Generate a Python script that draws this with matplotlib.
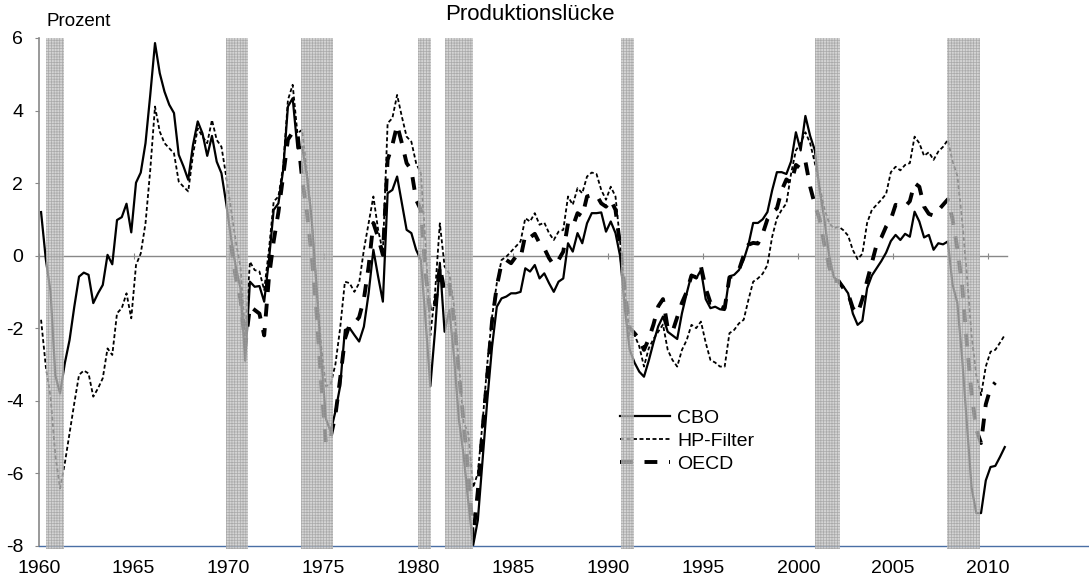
import numpy as np
import matplotlib
matplotlib.use("Agg")
import matplotlib.pyplot as plt

plt.rcParams['font.family'] = ['Liberation Sans', 'DejaVu Sans']
plt.rcParams['hatch.linewidth'] = 0.5

# Quartalswerte 1960Q1 - 2010Q4
cbo = [1.2, -0.1, -1.0, -3.3,
       -3.8, -2.97, -2.33, -1.41,
       -0.58, -0.47, -0.53, -1.31,
       -1.04, -0.81, 0.02, -0.24,
       0.98, 1.06, 1.43, 0.64,
       2.01, 2.29, 3.1, 4.43,
       5.86, 5.03, 4.52, 4.16,
       3.93, 2.78, 2.46, 2.09,
       3.05, 3.70, 3.37, 2.75,
       3.30, 2.59, 2.27, 1.44,
       0.5, -0.3, -0.9, -2.9,
       -0.72, -0.86, -0.84, -1.27,
       -0.12, 1.26, 1.44, 2.36,
       4.11, 4.34, 2.96, 3.0,
       2.2, 1.0, -0.8, -2.8,
       -4.5, -4.85, -4.3, -3.6,
       -2.05, -2.0, -2.19, -2.37,
       -1.96, -1.04, 0.16, -0.58,
       -1.27, 1.72, 1.81, 2.18,
       1.44, 0.71, 0.62, 0.16,
       -0.12, -1.8, -3.6, -2.05,
       -0.2, -2.1, -1.5, -2.8,
       -4.5, -5.5, -6.8, -8.0,
       -7.3, -5.64, -3.98, -2.51,
       -1.41, -1.18, -1.13, -1.04,
       -1.04, -1.0, -0.35, -0.44,
       -0.26, -0.63, -0.49, -0.76,
       -1.0, -0.72, -0.63, 0.34,
       0.11, 0.62, 0.34, 0.89,
       1.17, 1.17, 1.19, 0.66,
       0.94, 0.62, -0.03, -1.5,
       -2.6, -2.95, -3.2, -3.34,
       -2.9, -2.4, -1.95, -1.68,
       -2.1, -2.2, -2.3, -1.59,
       -1.04, -0.53, -0.63, -0.40,
       -1.2, -1.45, -1.41, -1.48,
       -1.5, -0.58, -0.53, -0.40,
       -0.12, 0.3, 0.9, 0.9,
       1.0, 1.2, 1.8, 2.3,
       2.3, 2.25, 2.6, 3.4,
       2.9, 3.85, 3.3, 2.9,
       1.8, 1.0, 0.0, -0.6,
       -0.7, -0.85, -1.04, -1.6,
       -1.91, -1.8, -0.9, -0.55,
       -0.35, -0.15, 0.08, 0.4,
       0.57, 0.43, 0.6, 0.52,
       1.21, 0.94, 0.5, 0.57,
       0.16, 0.34, 0.31, 0.39,
       -0.8, -1.3, -2.8, -4.6,
       -6.4, -7.1, -7.1, -6.2,
       -5.83, -5.8, -5.55, -5.28]

hp = [-1.77, -3.06, -3.9, -5.5,
      -6.42, -5.73, -4.9, -4.07,
      -3.29, -3.17, -3.25, -3.89,
      -3.66, -3.38, -2.56, -2.74,
      -1.59, -1.45, -1.04, -1.73,
      -0.26, 0.06, 0.89, 2.36,
      4.11, 3.42, 3.1, 2.96,
      2.82, 2.04, 1.9, 1.77,
      2.78, 3.51, 3.28, 3.1,
      3.74, 3.19, 3.0, 2.18,
      1.3, 0.4, -0.3, -2.2,
      -0.17, -0.4, -0.44, -0.95,
      0.16, 1.49, 1.63, 2.46,
      4.29, 4.71, 3.37, 3.47,
      2.3, 1.0, -0.8, -2.5,
      -3.6, -3.55, -3.0, -2.0,
      -0.72, -0.76, -1.0, -0.76,
      0.16, 0.9, 1.63, 0.71,
      0.1, 3.65, 3.79, 4.43,
      3.83, 3.28, 3.14, 2.55,
      2.27, 0.3, -2.2, -1.0,
      0.89, -0.3, -0.5, -1.4,
      -3.0, -4.6, -4.9, -6.4,
      -6.0, -4.6, -2.97, -1.68,
      -0.76, -0.12, -0.03, 0.11,
      0.25, 0.39, 1.03, 0.94,
      1.17, 0.85, 0.91, 0.62,
      0.43, 0.66, 0.71, 1.63,
      1.4, 1.86, 1.72, 2.18,
      2.29, 2.25, 1.81, 1.54,
      1.9, 1.63, 0.34, -1.0,
      -2.2, -2.19, -2.5, -3.06,
      -2.56, -2.3, -2.1, -1.9,
      -2.6, -2.88, -3.06, -2.6,
      -2.33, -1.91, -2.0, -1.82,
      -2.4, -2.88, -2.95, -3.06,
      -3.06, -2.14, -2.05, -1.87,
      -1.77, -1.22, -0.72, -0.63,
      -0.5, -0.26, 0.52, 1.03,
      1.26, 1.44, 2.27, 2.9,
      3.1, 3.4, 3.1, 2.55,
      1.9, 1.3, 0.9, 0.75,
      0.8, 0.7, 0.55, 0.15,
      -0.1, 0.05, 0.9, 1.26,
      1.4, 1.54, 1.7, 2.3,
      2.45, 2.35, 2.5, 2.55,
      3.28, 3.1, 2.75, 2.85,
      2.64, 2.87, 3.0, 3.19,
      2.6, 2.2, 1.0, -0.5,
      -2.2, -3.3, -3.85, -3.06,
      -2.65, -2.6, -2.4, -2.19]

# OECD erst ab 1970
oecd = [np.nan] * 40 + [
        0.3, -0.6, -1.2, -2.5,
        -1.4, -1.5, -1.6, -2.2,
        -0.6, 0.4, 1.2, 2.2,
        3.2, 3.4, 3.4, 2.1,
        1.2, 0.0, -1.5, -3.5,
        -5.2, -5.0, -4.4, -3.4,
        -2.3, -1.9, -1.87, -1.7,
        -1.2, -0.3, 0.9, 0.5,
        0.02, 2.64, 3.05, 3.6,
        3.1, 2.55, 2.36, 1.54,
        1.26, -0.5, -1.6, -1.4,
        -0.3, -1.0, -0.8, -1.8,
        -3.2, -4.6, -6.0, -7.8,
        -6.5, -4.8, -3.3, -1.8,
        -0.85, -0.21, -0.12, -0.21,
        -0.03, -0.07, 0.57, 0.5,
        0.6, 0.34, 0.2, -0.07,
        -0.26, -0.12, 0.11, 0.89,
        0.8, 1.17, 1.08, 1.63,
        1.67, 1.67, 1.44, 1.35,
        1.54, 1.26, 0.25, -1.0,
        -2.0, -2.14, -2.3, -2.6,
        -2.3, -1.9, -1.4, -1.2,
        -2.0, -2.1, -1.7, -1.3,
        -1.0, -0.55, -0.6, -0.3,
        -0.9, -1.3, -1.3, -1.4,
        -1.45, -0.6, -0.55, -0.4,
        0.0, 0.3, 0.35, 0.33,
        0.6, 1.0, 1.2, 1.3,
        1.8, 2.1, 2.0, 2.5,
        2.4, 2.6, 1.9, 1.4,
        1.0, 0.3, -0.3, -0.7,
        -0.7, -0.9, -1.05, -1.45,
        -1.6, -1.2, -0.7, -0.2,
        0.3, 0.5, 0.8, 1.0,
        1.4, 1.35, 1.35, 1.5,
        2.0, 1.9, 1.35, 1.15,
        1.1, 1.25, 1.4, 1.55,
        1.0, 0.2, -0.8, -2.4,
        -3.8, -4.8, -5.17, -4.1,
        -3.65, -3.5, np.nan, np.nan]

# Rezessionen (NBER), Anfang/Ende
rez_start = [1960.4, 1969.85, 1973.8, 1980.0, 1981.4, 1990.65, 2000.9, 2007.85]
rez_ende = [1961.35, 1971.0, 1975.5, 1980.65, 1982.85, 1991.35, 2002.2, 2009.55]

jahre = np.arange(1960, 2011, 5)

t = 1960.125 + np.arange(len(cbo)) / 4.0

fig = plt.figure(figsize=(10.89, 5.78), dpi=100)
ax = fig.add_axes([38.5 / 1089, 32.3 / 578, 1050.5 / 1089, 507.7 / 578])

ax.plot(t, cbo, color='black', lw=1.6, zorder=2, label='CBO')
ax.plot(t, hp, color='black', lw=1.3, ls=(0, (2.2, 1.4)), zorder=2, label='HP-Filter')
ax.plot(t, oecd, color='black', lw=2.8, ls=(0, (3.3, 3.0)), zorder=2, label='OECD')

# Rezessionsbalken ueber den Linien
for a, b in zip(rez_start, rez_ende):
    ax.axvspan(a, b, ymin=-0.006, ymax=1, facecolor='#c4c4c4', edgecolor='#9a9a9a',
               hatch='++++++', linewidth=0, alpha=0.72, zorder=3, clip_on=False)

ax.set_xlim(1959.99, 2015.31)
ax.set_ylim(-8, 6)

ax.set_yticks(np.arange(-8, 7, 2))
ax.set_yticklabels([str(v) for v in range(-8, 7, 2)])
ax.tick_params(axis='y', direction='out', length=3, width=0.8, color='#888888',
               labelsize=14, pad=8)
ax.set_xticks(jahre)
ax.set_xticklabels([str(j) for j in jahre])
ax.tick_params(axis='x', length=0, labelsize=14, pad=10)

for s in ['top', 'right']:
    ax.spines[s].set_visible(False)
ax.spines['left'].set_color('#888888')
ax.spines['left'].set_linewidth(1.2)
ax.spines['bottom'].set_color('#4a6fa5')
ax.spines['bottom'].set_linewidth(1.0)

# Nulllinie mit Markierungen
sec = ax.secondary_xaxis(8 / 14)
sec.set_xticks(jahre)
sec.set_xticklabels([])
sec.tick_params(direction='inout', length=5, width=0.8, color='#888888')
for s in ['top', 'bottom']:
    sec.spines[s].set_color('#888888')
    sec.spines[s].set_linewidth(1.0)
    sec.spines[s].set_bounds(1960, 2011)

leg = ax.legend(loc='upper left', bbox_to_anchor=(0.5535, 0.269), frameon=False,
                fontsize=14, handlelength=2.57, handletextpad=0.36,
                labelspacing=0.29, borderaxespad=0, borderpad=0)
leg.set_zorder(1)

fig.text(530 / 1089, 1 - 15 / 578, 'Produktionslücke', ha='center', va='center', fontsize=16)
fig.text(47 / 1089, 1 - 22 / 578, 'Prozent', ha='left', va='center', fontsize=13.5)

fig.savefig('out.png', dpi=100)
